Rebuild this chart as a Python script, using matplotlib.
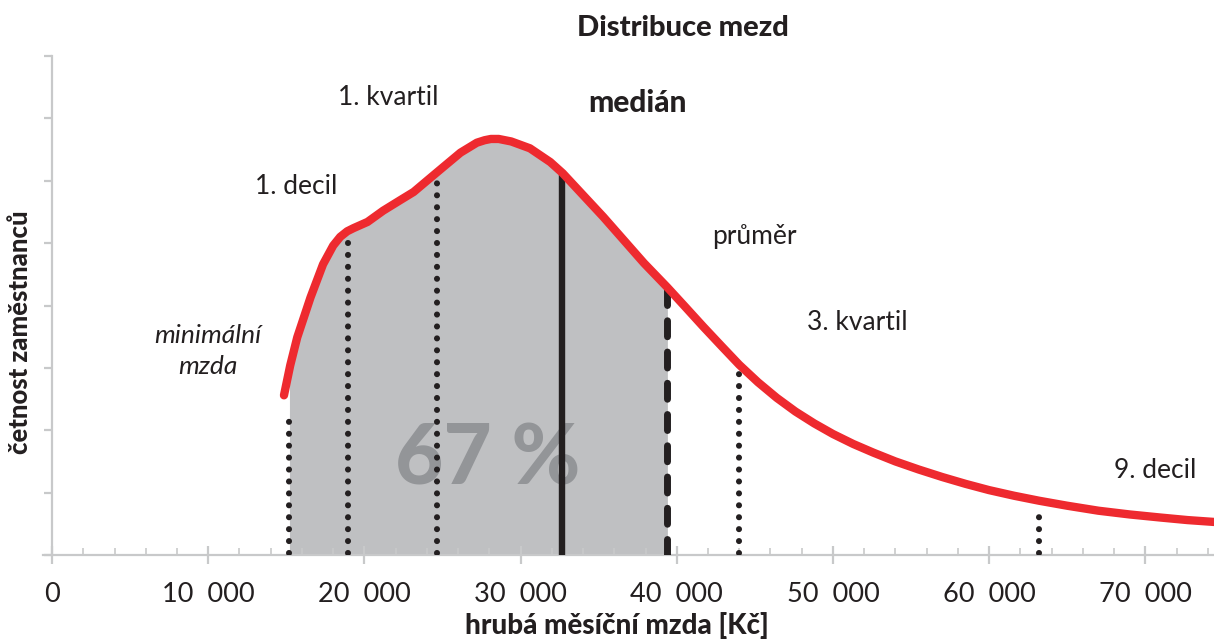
import matplotlib
matplotlib.use('Agg')
import numpy as np
import matplotlib.pyplot as plt

plt.rcParams['font.family'] = ['Lato', 'DejaVu Sans']

# wage distribution curve (Kc, relative frequency)
wage = [14850, 15250, 15700, 16550, 17350, 18000, 18450, 18900, 19300, 19750, 20200,
        21200, 22300, 23150, 24050, 25050, 26150, 27200, 27700, 28100, 28600,
        29400, 30600, 31900, 32700, 34000, 35300, 36600, 37900, 39400, 40500,
        41700, 42900, 44000, 45200, 46400, 47600, 48800, 50000, 51300, 52600,
        54000, 55500, 57000, 58500, 60000, 61600, 63200, 65000, 67000, 69000,
        71000, 72700, 74400]
freq = [2.56, 3.04, 3.49, 4.13, 4.66, 4.96, 5.10, 5.19, 5.24, 5.29, 5.34,
        5.52, 5.69, 5.82, 6.01, 6.22, 6.45, 6.61, 6.65, 6.67, 6.67,
        6.63, 6.52, 6.30, 6.12, 5.77, 5.42, 5.05, 4.68, 4.29, 3.99,
        3.66, 3.34, 3.05, 2.77, 2.52, 2.30, 2.11, 1.94, 1.78, 1.64,
        1.50, 1.37, 1.25, 1.14, 1.04, 0.95, 0.87, 0.79, 0.71, 0.65,
        0.60, 0.56, 0.53]

# markers: position, top of the marker line
marker_names = ['minimální\nmzda', '1. decil', '1. kvartil', 'medián', 'průměr', '3. kvartil', '9. decil']
marker_pos = [15200, 18950, 24650, 32650, 39400, 44000, 63200]
marker_top = [2.29, 5.02, 5.96, 6.10, 4.29, 2.93, 0.66]

share_text = '67 %'
xticks = [0, 10000, 20000, 30000, 40000, 50000, 60000, 70000]
xtick_labels = ['0', '10  000', '20  000', '30  000', '40  000', '50  000', '60  000', '70  000']

fig = plt.figure(figsize=(12.14, 6.39), dpi=100)
ax = fig.add_axes([43/1214, 84/639, 1171/1214, 499/639])
ax.set_xlim(-580, 74400)
ax.set_ylim(0, 8)

wage_a = np.array(wage)
freq_a = np.array(freq)

# grey area between minimum wage and average
lo, hi = marker_pos[0], marker_pos[4]
m = (wage_a >= lo) & (wage_a <= hi)
fx = np.concatenate([[lo], wage_a[m], [hi]])
fy = np.concatenate([[marker_top[0] + 0.5], freq_a[m], [marker_top[4]]])
ax.fill_between(fx, 0, fy, color='#bfc0c2', lw=0, zorder=1)

ax.text(27900, 1.52, share_text, fontsize=60, fontweight='black', color='#939598',
        ha='center', va='center', zorder=2)

dot = (0, (0.001, 1.95))
for i, (x, top) in enumerate(zip(marker_pos, marker_top)):
    if i == 3:
        ax.plot([x, x], [0, top], color='#231f20', lw=4.6, solid_capstyle='butt', zorder=3)
    elif i == 4:
        ax.plot([x, x], [0, top], color='#231f20', lw=5, linestyle=(0, (2.3, 2.2)),
                dash_capstyle='round', zorder=3)
    else:
        ax.plot([x, x], [0.03, top], color='#231f20', lw=4.4, linestyle=dot,
                dash_capstyle='round', zorder=3)

ax.plot(wage, freq, color='#ee2a2f', lw=6, solid_capstyle='round', solid_joinstyle='round', zorder=4)

# annotations
txt = dict(fontsize=19, color='#231f20', ha='center', va='center')
ax.text(10000, 3.27, marker_names[0], style='italic', linespacing=1.45, **txt)
ax.text(15640, 5.90, marker_names[1], **txt)
ax.text(21540, 7.34, marker_names[2], **txt)
ax.text(37500, 7.24, marker_names[3], fontweight='black', fontsize=21.5,
        color='#231f20', ha='center', va='center')
ax.text(45000, 5.10, marker_names[4], **txt)
ax.text(51540, 3.73, marker_names[5], **txt)
ax.text(70640, 1.36, marker_names[6], **txt)

# axes styling
for s in ['top', 'right']:
    ax.spines[s].set_visible(False)
ax.spines['left'].set_position(('data', 0))
for s in ['left', 'bottom']:
    ax.spines[s].set_color('#c8c9ca')
    ax.spines[s].set_linewidth(1.6)

ax.set_xticks(xticks)
ax.set_xticklabels(xtick_labels, fontsize=19.5, color='#231f20')
ax.set_xticks(np.arange(0, 74400, 2000), minor=True)
ax.tick_params(axis='x', which='major', direction='inout', length=13, width=1.6,
               color='#c8c9ca', pad=13)
ax.tick_params(axis='x', which='minor', direction='in', length=5, width=1.2, color='#c8c9ca')
ax.set_yticks(range(0, 9))
ax.set_yticklabels([])
ax.tick_params(axis='y', which='major', direction='out', length=6, width=1.6, color='#c8c9ca')

fig.text(683/1214, 1 - 28/639, 'Distribuce mezd', fontsize=21, fontweight='black',
         color='#231f20', ha='center', va='center')
fig.text(617/1214, 1 - 626/639, 'hrubá měsíční mzda [Kč]', fontsize=20, fontweight='black',
         color='#231f20', ha='center', va='center')
fig.text(20/1214, 1 - 332/639, 'četnost zaměstnanců', fontsize=18.5, fontweight='black',
         color='#231f20', ha='center', va='center', rotation=90)

fig.savefig('out.png', dpi=100)
